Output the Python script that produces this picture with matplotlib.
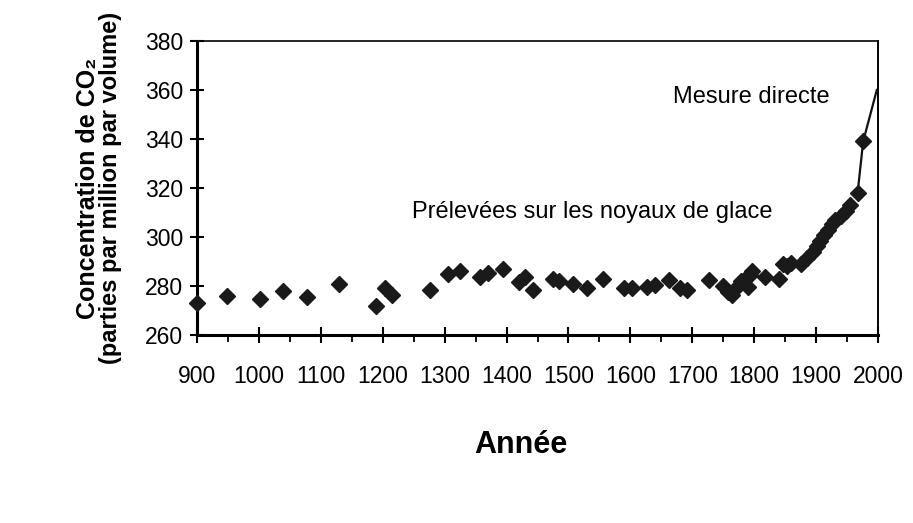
import matplotlib
matplotlib.use("Agg")
import matplotlib.pyplot as plt
from matplotlib.ticker import MultipleLocator

plt.rcParams['font.family'] = ['Liberation Sans', 'DejaVu Sans']

# carottes de glace
annees = [900, 948, 1002, 1039, 1077, 1130, 1189, 1203, 1215, 1277,
          1306, 1325, 1357, 1370, 1395, 1420, 1430, 1442, 1475, 1485,
          1508, 1530, 1555, 1589, 1602, 1627, 1640, 1663, 1680, 1691,
          1727, 1750, 1758, 1764, 1770, 1778, 1785, 1790, 1793, 1797,
          1818, 1840, 1847, 1853, 1860, 1875, 1885, 1895, 1901, 1907,
          1913, 1919, 1925, 1931, 1940, 1948, 1955, 1967, 1976]
co2 = [273, 276, 274.5, 278, 275.5, 281, 272, 279, 276.5, 278.5,
       285, 286, 283.5, 285.5, 287, 281.5, 283.5, 278.5, 283, 282,
       281, 279, 283, 279, 279, 279.5, 280.5, 282.5, 279, 278.5,
       282.5, 280, 277.5, 276.5, 279, 282, 283, 279.5, 284.5, 286,
       283.5, 283, 289, 288, 289.5, 289, 291.5, 294, 296.5, 298.5,
       301, 303, 305.5, 307, 308.5, 310.5, 313, 318, 339]

# mesure directe
annees_dir = [1967, 1976, 1998]
co2_dir = [318, 339, 360]

fig = plt.figure(figsize=(9.13, 5.23), dpi=100)
ax = fig.add_axes((0.2158, 0.3595, 0.7459, 0.5621))

ax.plot(annees_dir, co2_dir, color='#111111', lw=1.6, zorder=3)
ax.plot(annees, co2, ls='none', marker='D', ms=8, color='#1a1a1a', zorder=4, clip_on=False)

ax.set_xlim(900, 2000)
ax.set_ylim(260, 380)
ax.xaxis.set_major_locator(MultipleLocator(100))
ax.xaxis.set_minor_locator(MultipleLocator(50))
ax.yaxis.set_major_locator(MultipleLocator(20))

ax.tick_params(axis='x', which='major', direction='inout', length=12, width=1.5,
               pad=15.5, labelsize=16.5)
ax.tick_params(axis='x', which='minor', direction='out', length=5, width=1.3)
ax.tick_params(axis='y', which='major', direction='inout', length=10, width=1.5,
               pad=5, labelsize=16.5)

ax.spines['left'].set_linewidth(2.2)
ax.spines['bottom'].set_linewidth(2.2)
ax.spines['top'].set_linewidth(1.2)
ax.spines['right'].set_linewidth(1.4)

ax.text(1669, 354.7, 'Mesure directe', fontsize=17, va='baseline', ha='left')
ax.text(1247, 307.8, 'Prélevées sur les noyaux de glace', fontsize=17,
        va='baseline', ha='left')

fig.text(0.571, 0.1338, 'Année', fontsize=22, fontweight='bold',
         ha='center', va='baseline')
fig.text(0.096, 0.6405, 'Concentration de CO₂', fontsize=18, fontweight='bold',
         rotation=90, ha='center', va='center')
fig.text(0.1215, 0.6405, '(parties par million par volume)', fontsize=17,
         fontweight='bold', rotation=90, ha='center', va='center')

fig.savefig('out.png', dpi=100)
